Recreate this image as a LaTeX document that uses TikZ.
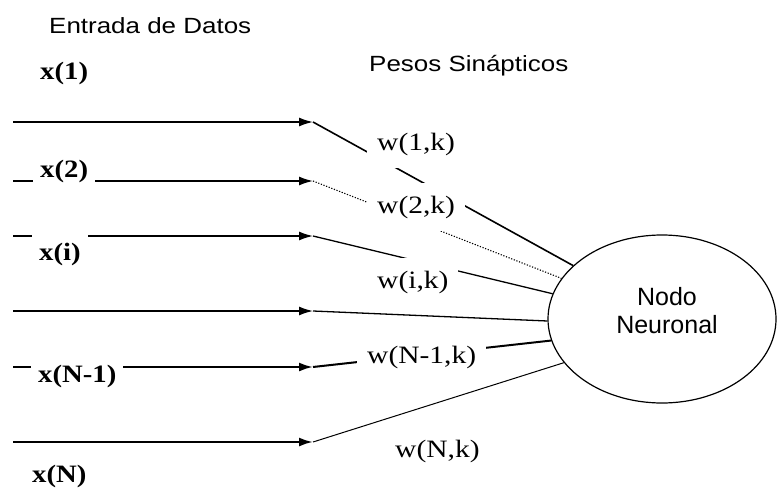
\documentclass[tikz,border=0pt]{standalone}
\usepackage{fontspec}
\setmainfont{Liberation Serif}
\newfontfamily\headfont{Liberation Sans}[FakeStretch=1.18]
\newfontfamily\nodefont{Liberation Sans}
\newfontfamily\wfont{Liberation Serif}[FakeStretch=1.18]
\newfontfamily\xfont{Liberation Serif}[FakeStretch=1.15]
\usetikzlibrary{shapes.geometric,arrows.meta}
\begin{document}
\begin{tikzpicture}[x=1pt,y=-1pt,
  head/.style={font=\headfont\fontsize{22}{26}\selectfont, inner sep=0pt, anchor=base west},
  xlab/.style={font=\xfont\bfseries\fontsize{25}{29}\selectfont, fill=white, inner xsep=7pt, inner ysep=3pt, anchor=base west},
  wlab/.style={font=\wfont\fontsize{25}{29}\selectfont, fill=white, inner xsep=10pt, inner ysep=13pt, anchor=base west},
  harrow/.style={line width=1.5pt, -{Latex[length=14pt,width=9pt]}},
  harrowb/.style={line width=2.2pt, -{Latex[length=14pt,width=9pt]}},
  syn/.style={line width=1.3pt},
  neuron/.style={ellipse, draw, line width=1.2pt, minimum width=228pt, minimum height=168pt, inner sep=0pt,
    align=center, font=\nodefont\fontsize{25}{29}\selectfont}
]
\useasboundingbox (0,0) rectangle (778,489);

% neuron
\node[neuron] (nn) at (662,319) {\hspace{10pt}Nodo\\[-1pt]\hspace{10pt}Neuronal\\[-12pt]\mbox{}};

% input line start and tip coordinates
\coordinate (s1) at (13,122);  \coordinate (t1) at (313,122);
\coordinate (s2) at (13,181);  \coordinate (t2) at (313,181);
\coordinate (s3) at (13,236);  \coordinate (t3) at (313,236);
\coordinate (s4) at (13,311);  \coordinate (t4) at (313,311);
\coordinate (s5) at (13,367);  \coordinate (t5) at (313,367);
\coordinate (s6) at (13,442);  \coordinate (t6) at (313,442);

% horizontal input arrows
\draw[harrow] (s1) -- (t1);
\draw[harrow] (s2) -- (t2);
\draw[harrow] (s3) -- (t3);
\draw[harrow] (s4) -- (t4);
\draw[harrowb] (s5) -- (t5);
\draw[harrowb] (s6) -- (t6);

% synaptic connections
\draw[syn, line width=1.6pt] (t1) -- (nn.149.7);
\draw[line width=1.1pt, dash pattern=on 1.2pt off 1.6pt] (t2) -- (nn.158.1);
\draw[syn] (t3) -- (nn.167.6);
\draw[syn] (t4) -- (nn.181.5);
\draw[syn, line width=2pt] (t5) -- (nn.191.6);
\draw[syn, line width=1pt] (t6) -- (nn.204);

% headings
\node[head] (hin) at (49,34) {Entrada de Datos};
\node[head] (hw) at (369,72) {Pesos Sinápticos};

% input labels
\node[xlab, fill=none, inner xsep=0pt] (x1) at (40,80) {x(1)};
\node[xlab] (x2) at (33,178) {x(2)\hspace{3pt}};
\node[xlab, inner ysep=10pt] (xi) at (32,260) {x(i)\hspace{8pt}};
\node[xlab] (xn1) at (31,382) {x(N-1)};
\node[xlab, fill=none, inner xsep=0pt] (xn) at (32,482) {x(N)};

% weight labels
\node[wlab] (w1) at (367,150) {w(1,k)};
\node[wlab] (w2) at (367,213) {w(2,k)};
\node[wlab] (wi) at (367,288) {w(i,k)\hspace{8pt}};
\node[wlab] (wn1) at (357,363) {w(N-1,k)};
\node[wlab] (wn) at (385,457) {w(N,k)};
\end{tikzpicture}
\end{document}
